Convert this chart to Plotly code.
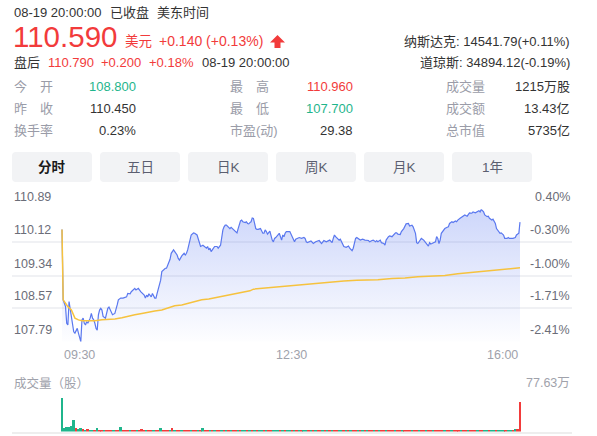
import plotly.graph_objects as go

W, H = 597, 436
FONT = "Arial, 'Liberation Sans', 'Noto Sans CJK SC', sans-serif"
RED = "#f23b3b"
GREEN = "#1fb58c"
GREY = "#9a9ca8"

# ---- data ----
prev_close = 110.45

minutes = [0, 1, 2, 3, 4, 5, 6, 7, 8, 9, 10, 11, 12, 13, 14, 15, 16, 17, 18, 19, 20, 21, 22, 24, 25, 26, 27, 28, 29, 30,
           31, 32, 33, 34, 35, 37, 38, 39, 40, 41, 42, 43, 45, 46, 47, 48, 50, 52, 55, 56, 58, 59, 62, 63, 65, 67, 70,
           71, 72, 73, 74, 76, 77, 79, 80, 81, 82, 83, 84, 85, 88, 89, 90, 91, 92, 93, 95, 96, 98, 99, 100, 102, 104,
           105, 106, 107, 108, 109, 110, 112, 113, 115, 116, 117, 118, 120, 121, 123, 124, 125, 126, 127, 129,
           130, 132, 133, 135, 136, 137, 138, 139, 140, 142, 143, 144, 146, 147, 149, 150, 151, 152, 153, 154, 156,
           157, 158, 159, 160, 161, 162, 163, 164, 165, 166, 167, 169, 170, 171, 172, 173, 174, 175, 177, 178, 179,
           180, 181, 182, 183, 185, 186, 187, 188, 189, 190, 191, 194, 195, 196, 197, 198, 199, 202, 204, 206, 207,
           208, 209, 212, 214, 216, 219, 220, 221, 223, 225, 228, 230, 231, 232, 233, 236, 237, 238, 239, 240, 242,
           244, 245, 247, 248, 249, 250, 251, 254, 256, 258, 261,
           262, 264, 265, 267, 268, 269, 271, 272, 274, 275, 276, 278, 279, 281, 282, 284, 285, 286, 288, 289, 291,
           292, 293, 295, 296, 298, 299, 301, 302, 303, 305, 306, 308, 309, 311, 312, 313, 314, 315, 316, 318, 319,
           320, 321, 322, 323, 325, 326, 328, 329, 330, 332, 333, 335, 336, 337, 339, 340, 342, 343, 345, 346, 347,
           349, 350, 352, 353, 355, 356, 357, 359, 360, 362, 363, 364, 366, 367, 369, 370, 372, 373, 374, 376, 377,
           379, 380, 381, 383, 384, 386, 387, 389, 390]
prices = [110.42, 108.77, 108.69, 108.61, 108.22, 108.18, 108.73, 108.53, 108.38, 108.14, 108.02, 107.99, 108.06,
          108.10, 107.99, 107.91, 107.79, 108.30, 108.34, 108.22, 108.18, 108.26, 108.22, 108.34, 108.45, 108.34,
          108.30, 108.22, 108.10, 108.06, 108.42, 108.53, 108.57, 108.53, 108.38, 108.34, 108.49, 108.57, 108.60,
          108.53, 108.45, 108.42, 108.45, 108.53, 108.65, 108.77, 108.81, 108.81, 108.84, 108.92, 108.91, 108.96,
          109.04, 109.00, 109.04, 108.96, 108.88, 108.81, 108.88, 108.84, 108.91, 108.84, 108.92, 108.81, 108.81,
          108.92, 109.04, 109.16, 109.23, 109.43, 109.51, 109.51, 109.59, 109.66, 109.72, 109.86, 109.94, 109.90,
          109.82, 109.74, 109.70, 109.80, 109.86, 109.82, 109.86, 109.94, 110.05, 110.17, 110.29, 110.34, 110.33,
          110.29, 110.21, 110.09, 110.02, 110.05, 110.02, 109.98, 110.02, 109.94, 109.98, 109.90, 109.98,
          110.02, 110.02, 109.98, 110.05, 110.25, 110.41, 110.48, 110.52, 110.52, 110.48, 110.44, 110.47, 110.42,
          110.41, 110.34, 110.44, 110.55, 110.62, 110.64, 110.60, 110.58, 110.60, 110.56, 110.55, 110.58, 110.60,
          110.69, 110.68, 110.56, 110.44, 110.42, 110.42, 110.44, 110.39, 110.33, 110.33, 110.41, 110.37, 110.31,
          110.38, 110.25, 110.17, 110.13, 110.21, 110.23, 110.26, 110.33, 110.25, 110.17, 110.29, 110.25, 110.33,
          110.37, 110.37, 110.31, 110.25, 110.21, 110.13, 110.19, 110.23, 110.21, 110.23, 110.21, 110.13, 110.11,
          110.15, 110.09, 110.13, 110.16, 110.11, 110.09, 110.16, 110.13, 110.17, 110.11, 110.21, 110.29, 110.25,
          110.17, 110.19, 110.13, 110.09, 110.02, 110.00, 110.03, 109.98, 109.92, 109.98, 110.09, 110.21, 110.23,
          110.17, 110.19, 110.17, 110.16,
          110.13, 110.16, 110.17, 110.13, 110.16, 110.13, 110.17, 110.11, 110.09, 110.05, 110.17, 110.25, 110.27,
          110.25, 110.29, 110.34, 110.34, 110.31, 110.30, 110.37, 110.44, 110.52, 110.55, 110.56, 110.50, 110.52,
          110.48, 110.33, 110.11, 110.09, 110.17, 110.21, 110.17, 110.13, 110.05, 110.03, 110.11, 110.08, 110.09,
          110.11, 110.13, 110.25, 110.21, 110.09, 110.17, 110.33, 110.41, 110.44, 110.47, 110.48, 110.56, 110.60,
          110.58, 110.62, 110.60, 110.64, 110.68, 110.70, 110.73, 110.76, 110.73, 110.78, 110.81, 110.80, 110.83,
          110.81, 110.83, 110.86, 110.83, 110.89, 110.83, 110.76, 110.72, 110.73, 110.68, 110.64, 110.66, 110.56,
          110.44, 110.37, 110.33, 110.34, 110.29, 110.21, 110.21, 110.23, 110.21, 110.21, 110.21, 110.23, 110.29,
          110.33, 110.59]

avg_minutes = [0, 1, 3, 5, 8, 10, 11, 14, 17, 22, 28, 34, 39, 45, 51, 56, 62, 68, 73, 79, 85, 90, 96, 102, 108,
               113, 119, 125, 137, 149, 160, 163, 171, 183, 194, 205, 217, 228, 240, 251, 262, 269, 281, 292, 303,
               315, 326, 337, 349, 360, 372, 383, 390]
avg_prices = [110.42, 108.77, 108.69, 108.61, 108.53, 108.42, 108.34, 108.30, 108.28, 108.28, 108.28, 108.30,
              108.31, 108.32, 108.35, 108.39, 108.42, 108.45, 108.48, 108.51, 108.53, 108.57, 108.63, 108.65,
              108.69, 108.73, 108.77, 108.79, 108.86, 108.92, 108.98, 109.02, 109.04, 109.08, 109.10, 109.13,
              109.16, 109.19, 109.21, 109.23, 109.23, 109.24, 109.27, 109.28, 109.31, 109.32, 109.34, 109.38,
              109.41, 109.45, 109.48, 109.50, 109.52]

# volume in 万股, one bar per 2 minutes (0, 2, ... 390)
volume = [77.63, 8.2, 11.4, 10.1, 12.3, 26.0, 9.1, 6.2, 7.0, 5.1,
          4.2, 5.3, 4.1, 3.8, 3.2, 7.1, 4.4, 3.1, 3.9, 3.3,
          2.8, 4.1, 3.2, 2.9, 3.6, 9.8, 4.0, 3.1, 2.7, 3.4,
          3.7, 3.4, 4.1, 3.6, 4.7, 3.3, 3.8, 3.5, 4.0, 3.4,
          3.9, 3.2, 7.6, 3.8, 3.7, 4.3, 3.5, 7.7, 4.0, 3.6,
          3.4, 3.8, 3.2, 3.7, 3.5, 3.1, 3.9, 3.3, 3.6, 3.0,
          7.5, 3.4, 3.7, 3.2, 3.0, 3.5, 3.3, 2.9, 3.4, 3.1,
          2.8, 3.3, 3.0, 3.6, 2.9, 3.2, 2.7, 3.1, 3.4, 2.8,
          3.0, 2.6, 3.2, 2.9, 3.3, 2.7, 3.0, 2.8, 3.5, 2.6,
          3.1, 2.9, 2.7, 3.2, 2.8, 3.0, 2.6, 3.3, 2.9, 2.7,
          3.1, 2.8, 3.4, 2.6, 3.0, 3.2, 2.7, 2.9, 3.1, 2.8,
          2.6, 3.0, 3.3, 2.8, 2.7, 3.1, 2.9, 3.2, 2.6, 3.0,
          2.8, 3.4, 2.7, 2.9, 3.1, 2.8, 3.0, 2.6, 3.2, 2.9,
          2.7, 3.1, 2.8, 3.3, 3.0, 2.6, 2.9, 3.2, 2.8, 3.1,
          2.9, 2.7, 3.4, 3.0, 2.8, 3.2, 2.7, 3.1, 2.9, 3.3,
          2.8, 3.0, 2.6, 3.2, 2.9, 3.1, 2.8, 3.4, 3.0, 2.7,
          3.2, 2.9, 3.1, 3.3, 2.8, 3.0, 3.4, 2.9, 3.2, 3.1,
          3.3, 3.0, 3.5, 3.2, 2.9, 3.4, 3.1, 3.6, 3.3, 3.0,
          3.7, 3.4, 3.2, 3.8, 3.5, 4.0, 3.6, 4.2, 3.9, 4.4,
          4.1, 4.6, 4.3, 4.9, 4.7, 68.8]
vol_minutes = list(range(0, 391, 2))
vol_dir = ("ggggggrggrgrggrgrrgr" "rrgrrgrrrgrrgrrrgrrg" "rrgrrrgrgrrgrrrgrrgr" "grrgrgrrgrgrgrrgrggr"
           "grgrggrgrrgggrgrggrg" "rgrggrgrgrrgrgrgrrgg" "rgrgrrgrgrgrrgrgrrgr" "rrgrrgrrrgrrgrrgrrgr"
           "rrrgrrgrrrgrrgrrrgrr" "ggrggrgggrggrgrr")
vol_max = 77.63

price_ticks = [110.89, 110.12, 109.34, 108.57, 107.79]
pct_labels = ["0.40%", "-0.30%", "-1.00%", "-1.71%", "-2.41%"]
time_ticks = [0, 195, 390]
time_labels = ["09:30", "12:30", "16:00"]
tabs = ["分时", "五日", "日K", "周K", "月K", "1年"]

stats = [
    [("今　开", "108.800", GREEN), ("最　高", "110.960", RED), ("成交量", "1215万股", "#333333")],
    [("昨　收", "110.450", "#333333"), ("最　低", "107.700", GREEN), ("成交额", "13.43亿", "#333333")],
    [("换手率", "0.23%", "#333333"), ("市盈(动)", "29.38", "#333333"), ("总市值", "5735亿", "#333333")],
]


def px(x):
    return x / W


def py(y):
    return 1 - y / H


annotations = []


def txt(x, y, s, size=13, color="#333333", anchor="left"):
    annotations.append(dict(
        x=px(x), y=py(y), xref="paper", yref="paper", text=s, showarrow=False,
        xanchor=anchor, yanchor="middle", font=dict(family=FONT, size=size, color=color)))


# ---- axes geometry ----
x_left, x_right = 12, 572          # grid extent in px
x0_px, x1_px = 62, 520             # 09:30 .. 16:00
ppm = (x1_px - x0_px) / 390
x_range = [(x_left - x0_px) / ppm, 390 + (x_right - x1_px) / ppm]

fig = go.Figure()

lo, hi = price_ticks[-1], price_ticks[0]
fig.add_trace(go.Scatter(x=[minutes[0], minutes[-1]], y=[lo, lo], mode="lines",
                         line=dict(width=0), hoverinfo="skip", showlegend=False))
fig.add_trace(go.Scatter(
    x=minutes, y=prices, mode="lines", fill="tonexty",
    line=dict(color="#5a78ef", width=1.2),
    fillgradient=dict(type="vertical",
                      colorscale=[[0, "rgba(90,120,240,0.01)"], [1, "rgba(90,120,240,0.30)"]]),
    showlegend=False))
fig.add_trace(go.Scatter(x=avg_minutes, y=avg_prices, mode="lines",
                         line=dict(color="#f6c23e", width=1.5), showlegend=False))
fig.add_trace(go.Bar(
    x=vol_minutes, y=volume, width=1.6, xaxis="x2", yaxis="y3",
    marker=dict(color=[RED if d == "r" else GREEN for d in vol_dir], line=dict(width=0)),
    showlegend=False))

grid = dict(showgrid=True, gridcolor="#f0f1f4", gridwidth=1.6, zeroline=False,
            showticklabels=False, ticks="", fixedrange=True)

fig.update_layout(
    width=W, height=H, margin=dict(l=0, r=0, t=0, b=0),
    paper_bgcolor="white", plot_bgcolor="white", showlegend=False, bargap=0,
    xaxis=dict(domain=[px(x_left), px(x_right)], range=x_range, showgrid=False,
               zeroline=False, showticklabels=False, fixedrange=True),
    yaxis=dict(domain=[py(341.7), py(209.3)], range=[lo - 0.002, hi + 0.002],
               tickvals=price_ticks, **grid),
    xaxis2=dict(domain=[px(x_left), px(x_right)], range=x_range, anchor="y3", showgrid=False,
                zeroline=False, showticklabels=False, showline=True, linecolor="#eeeeee",
                linewidth=1.5, fixedrange=True),
    yaxis3=dict(domain=[py(431.5), py(398)], range=[0, vol_max], showgrid=False,
                zeroline=False, showticklabels=False, fixedrange=True),
)

# ---- header ----
txt(12, 12, "08-19 20:00:00", 13)
txt(108, 12, "已收盘", 13)
txt(155, 12, "美东时间", 13)
txt(11, 37, "110.590", 29.5, RED)
txt(123, 41, "美元", 13.5, RED)
txt(157, 41, "+0.140 (+0.13%)", 14, RED)
txt(12, 62, "盘后", 13)
txt(46, 62, "110.790", 13, RED)
txt(99, 62, "+0.200", 13, RED)
txt(147, 62, "+0.18%", 13, RED)
txt(200, 62, "08-19 20:00:00", 13)
txt(572, 42, "纳斯达克: 14541.79(+0.11%)", 13, "#333333", "right")
txt(572, 62, "道琼斯: 34894.12(-0.19%)", 13, "#333333", "right")

shapes = []
# up arrow
arrow = [(277.5, 35), (285, 42.5), (280.5, 42.5), (280.5, 48), (274.5, 48), (274.5, 42.5), (270, 42.5)]
shapes.append(dict(type="path", xref="paper", yref="paper", line=dict(width=0), fillcolor=RED,
                   path="M " + " L ".join(f"{px(a)},{py(b)}" for a, b in arrow) + " Z"))

# stats block
cols = [(12, 138), (228, 355), (444, 572)]
rows_y = [87, 108.5, 130]
for r, row in enumerate(stats):
    for c, (lab, val, col) in enumerate(row):
        txt(cols[c][0], rows_y[r], lab, 13, GREY)
        txt(cols[c][1], rows_y[r], val, 13, col, "right")


# tabs
def rrect(x0, y0, x1, y1, r=4):
    pts = (f"M {px(x0 + r)},{py(y0)} L {px(x1 - r)},{py(y0)} Q {px(x1)},{py(y0)} {px(x1)},{py(y0 + r)} "
           f"L {px(x1)},{py(y1 - r)} Q {px(x1)},{py(y1)} {px(x1 - r)},{py(y1)} "
           f"L {px(x0 + r)},{py(y1)} Q {px(x0)},{py(y1)} {px(x0)},{py(y1 - r)} "
           f"L {px(x0)},{py(y0 + r)} Q {px(x0)},{py(y0)} {px(x0 + r)},{py(y0)} Z")
    return dict(type="path", xref="paper", yref="paper", path=pts, fillcolor="#f2f3f5",
                line=dict(width=0), layer="below")


for i, t in enumerate(tabs):
    x0 = 12 + i * 88
    shapes.append(rrect(x0, 152, x0 + 80, 182))
    if i == 0:
        txt(x0 + 40, 167, "<b>" + t + "</b>", 13.5, "#1a1a1a", "center")
    else:
        txt(x0 + 40, 167, t, 13.5, "#5b5e70", "center")

# axis labels (above each grid line)
for v, p in zip(price_ticks, pct_labels):
    annotations.append(dict(x=px(x_left), y=v, xref="paper", yref="y", text=f"{v:.2f}", showarrow=False,
                            xanchor="left", yanchor="middle", yshift=12,
                            font=dict(family=FONT, size=12.5, color="#6b6d78")))
    annotations.append(dict(x=px(x_right), y=v, xref="paper", yref="y", text=p, showarrow=False,
                            xanchor="right", yanchor="middle", yshift=12,
                            font=dict(family=FONT, size=12.5, color="#6b6d78")))

for t, lab, anc in zip(time_ticks, time_labels, ["left", "center", "right"]):
    annotations.append(dict(x=t, y=py(355), xref="x", yref="paper", text=lab, showarrow=False,
                            xanchor=anc, yanchor="middle",
                            font=dict(family=FONT, size=12.5, color="#a0a2ab")))

txt(12, 383, "成交量（股）", 12.5, "#a0a2ab")
txt(572, 383, f"{vol_max:.2f}万", 12.5, "#a0a2ab", "right")

fig.update_layout(annotations=annotations, shapes=shapes)
# the page body has a default 8px margin; drop it so the figure fills the window
fig.write_html("out.html", config={"displayModeBar": False},
               post_script="document.body.style.margin = '0';")
